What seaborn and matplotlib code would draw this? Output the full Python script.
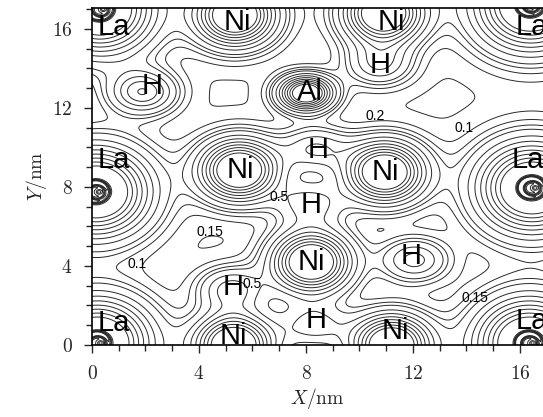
import numpy as np
import matplotlib
matplotlib.use("Agg")
import matplotlib.pyplot as plt
import seaborn as sns

# atom centres (nm), including images just outside the frame
la_x = [0.2, 0.15, 0.3, 16.4, 16.45, 16.35]
la_y = [0.1, 7.75, 17.0, 17.2, 7.95, 0.1]
ni_x = [5.35, 10.9, 5.5, 10.95, 8.2, 5.3, 11.2]
ni_y = [16.7, 16.8, 8.85, 8.75, 4.2, 0.0, 0.0]
h_x = [1.9, 10.75, 8.35, 8.15, 12.05, 5.2, 8.3]
h_y = [12.8, 14.2, 9.95, 7.15, 4.3, 2.85, 1.0]
h_peak = [0.6, 0.4, 0.4, 0.35, 0.45, 0.45, 0.35]
al_x = [8.0]
al_y = [12.75]

levels = [0.1, 0.15, 0.2, 0.25, 0.3, 0.4, 0.5, 0.6, 0.7, 0.8, 0.9, 1.0,
          1.5, 2.0, 2.5, 3.0, 4.0, 5.0]

# atom labels as printed on the map
label_text = ["La", "La", "La", "La", "La", "La",
              "Ni", "Ni", "Ni", "Ni", "Ni", "Ni", "Ni",
              "H", "H", "H", "H", "H", "H", "H", "Al"]
label_x = [0.8, 0.8, 0.8, 16.45, 16.3, 16.45,
           5.42, 11.2, 5.53, 10.95, 8.19, 5.27, 11.33,
           2.24, 10.77, 8.45, 8.19, 11.93, 5.27, 8.37, 8.15]
label_y = [16.1, 9.37, 1.1, 16.1, 9.37, 1.2,
           16.35, 16.35, 8.86, 8.76, 4.2, 0.45, 0.7,
           13.1, 14.18, 9.87, 7.09, 4.5, 2.94, 1.27, 12.8]

# contour values written on the map
clab_text = ["0.5", "0.15", "0.1", "0.2", "0.1", "0.5", "0.15"]
clab_x = [7.0, 4.4, 1.7, 10.6, 13.9, 6.0, 14.3]
clab_y = [7.5, 5.7, 4.1, 11.6, 10.98, 3.1, 2.4]

# ---- model density on a grid ----
gx = np.linspace(-1, 18, 600)
gy = np.linspace(-1, 18, 600)
X, Y = np.meshgrid(gx, gy)
rho = np.full_like(X, 0.09)


def blob(cx, cy, amp, sx, sy=None):
    sy = sx if sy is None else sy
    return amp * np.exp(-(X - cx) ** 2 / (2 * sx ** 2) - (Y - cy) ** 2 / (2 * sy ** 2))


for cx, cy in zip(la_x, la_y):
    dx, dy = X - cx, (Y - cy) * 0.9
    r = np.sqrt(dx ** 2 + dy ** 2)
    th = np.arctan2(dy, dx)
    wide = 1.3 * np.exp(-r ** 2 / (2 * 1.4 ** 2))
    ring = 6.0 * (1 + 0.5 * np.cos(th - 2.6)) * np.exp(-(r - 0.42) ** 2 / (2 * 0.07 ** 2))
    core = 1.5 * np.exp(-((dx - 0.12) ** 2 + dy ** 2) / (2 * 0.08 ** 2))
    rho += wide + ring + core
for cx, cy in zip(ni_x, ni_y):
    rho += blob(cx, cy, 1.28, 1.0, 1.05)
for cx, cy, a in zip(h_x, h_y, h_peak):
    rho += blob(cx, cy, a, 0.85, 0.75)
for cx, cy in zip(al_x, al_y):
    rho += blob(cx, cy, 1.2, 0.68, 0.6)

sns.set_style("ticks")
plt.rcParams["mathtext.fontset"] = "cm"

fig = plt.figure(figsize=(5.43, 4.17), dpi=100)
ax = fig.add_axes([0.1694, 0.1727, 0.8306, 0.8081])
ax.contour(X, Y, rho, levels=levels, colors="#2a2a2a", linewidths=0.7)

for t, x, y in zip(label_text, label_x, label_y):
    ax.text(x, y, t, fontsize=21, family="Liberation Sans", color="black",
            ha="center", va="center")
for t, x, y in zip(clab_text, clab_x, clab_y):
    ax.text(x, y, t, fontsize=10, family="Liberation Sans", color="black",
            ha="center", va="center")

ax.set_xlim(0, 16.86)
ax.set_ylim(0, 17.06)
ax.set_xticks([0, 4, 8, 12, 16])
ax.set_xticklabels([f"${v}$" for v in [0, 4, 8, 12, 16]])
ax.set_yticks([0, 4, 8, 12, 16])
ax.set_yticklabels([f"${v}$" for v in [0, 4, 8, 12, 16]])
ax.set_xticks(np.arange(0, 17, 1), minor=True)
ax.set_yticks(np.arange(0, 18, 1), minor=True)
ax.tick_params(which="major", length=6, width=1, labelsize=14, direction="out", pad=8)
ax.tick_params(which="minor", length=4, width=1, direction="out")
for sp in ["left", "bottom", "top"]:
    ax.spines[sp].set_linewidth(1.2)
    ax.spines[sp].set_color("black")
ax.spines["right"].set_visible(False)
ax.set_xlabel(r"$X/\mathrm{nm}$", fontsize=14, labelpad=2)
ax.set_ylabel(r"$Y/\mathrm{nm}$", fontsize=14, labelpad=2)

fig.savefig("out.png", dpi=100)
